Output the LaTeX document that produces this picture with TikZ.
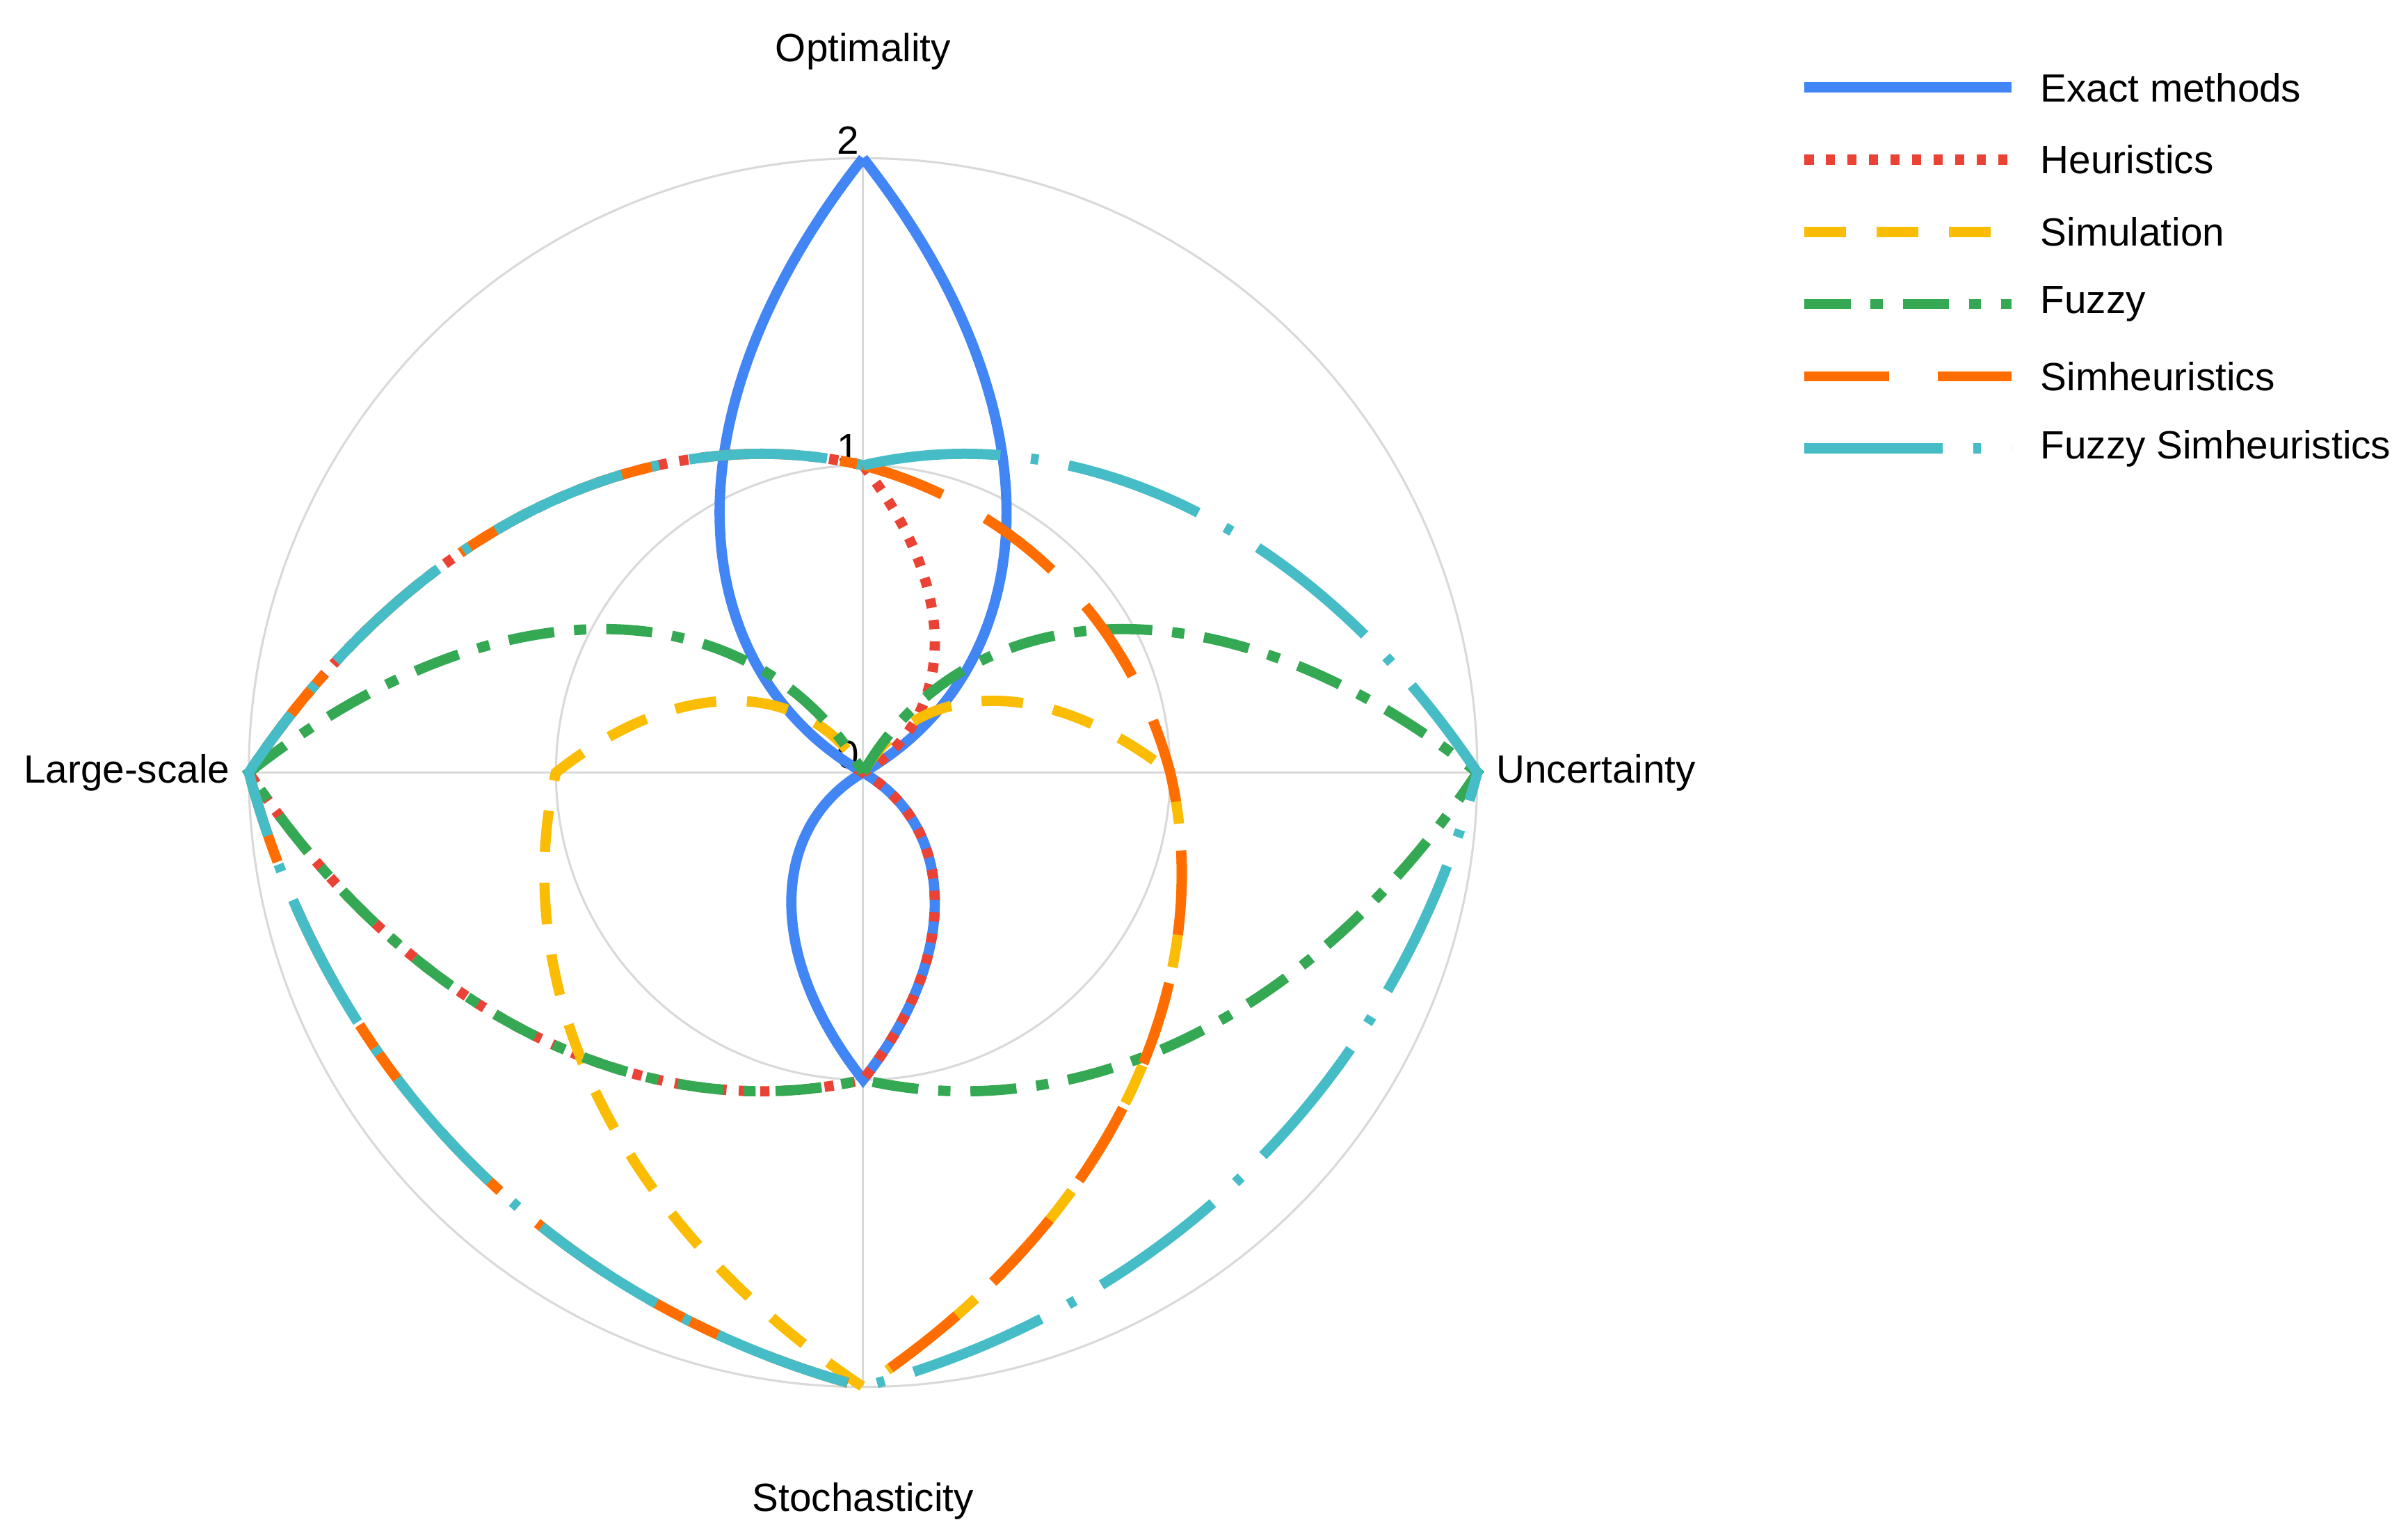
\documentclass[tikz,border=0pt]{standalone}
\usepackage{fontspec}
\setmainfont{Liberation Sans}
\usetikzlibrary{positioning}

\definecolor{cexact}{HTML}{4285F4}
\definecolor{cheur}{HTML}{EA4335}
\definecolor{csim}{HTML}{FBBC04}
\definecolor{cfuzzy}{HTML}{34A853}
\definecolor{csimh}{HTML}{FF6D01}
\definecolor{cfsimh}{HTML}{46BDC6}

% closed curve through the four axis values (top, right, bottom, left)
\newcommand{\radarcurve}[5]{%
  \draw[#1] (90:#2) .. controls (60:{(2*#2+#3)/3}) and (30:{(#2+2*#3)/3}) .. (0:#3)
    .. controls (-30:{(2*#3+#4)/3}) and (-60:{(#3+2*#4)/3}) .. (-90:#4)
    .. controls (-120:{(2*#4+#5)/3}) and (-150:{(#4+2*#5)/3}) .. (180:#5)
    .. controls (150:{(2*#5+#2)/3}) and (120:{(#5+2*#2)/3}) .. (90:#2);}

\begin{document}
\begin{tikzpicture}[font=\fontsize{7.3}{9}\selectfont,
	grid/.style={gray!30, line width=0.4pt},
	series/.style={line width=1.9pt},
	exact/.style={series, cexact},
	heur/.style={series, cheur, dash pattern=on 0.06cm off 0.08cm},
	simu/.style={series, csim, dash pattern=on 0.27cm off 0.2cm},
	fuzzy/.style={series, cfuzzy, dash pattern=on 0.3cm off 0.13cm on 0.08cm off 0.13cm},
	simh/.style={series, csimh, dash pattern=on 0.55cm off 0.32cm},
	fsimh/.style={series, cfsimh, dash pattern=on 0.9cm off 0.2cm on 0.05cm off 0.2cm}]
	\useasboundingbox (0,0) rectangle (15.68,10);
	\begin{scope}[shift={(5.62,4.97)}, x=2cm, y=2cm]
		\coordinate (O) at (0,0);
		\draw[grid] (O) circle (1);
		\draw[grid] (O) circle (2);
		\coordinate (top) at (0,2);
		\coordinate (right) at (2,0);
		\coordinate (bottom) at (0,-2);
		\coordinate (left) at (-2,0);
		\draw[grid] (top) -- (bottom);
		\draw[grid] (left) -- (right);
		\node[anchor=south east, inner sep=0.5pt] (v2) at (0,2) {2};
		\node[anchor=south east, inner sep=0.5pt] (v1) at (0,1) {1};
		\node[anchor=south east, inner sep=0.5pt] (v0) at (0,0) {0};
		\node[above=0.45cm of top] (opt) {Optimality};
		\node[right=0cm of right] (unc) {Uncertainty};
		\node[below=0.5cm of bottom] (sto) {Stochasticity};
		\node[left=0cm of left] (lsc) {Large-scale};
		\radarcurve{exact}{2}{0}{1}{0}
		\radarcurve{heur}{1}{0}{1}{2}
		\radarcurve{simu}{0}{1}{2}{1}
		\radarcurve{fuzzy}{0}{2}{1}{2}
		\radarcurve{simh}{1}{1}{2}{2}
		\radarcurve{fsimh}{1}{2}{2}{2}
	\end{scope}
	% legend
	\foreach \st/\txt [count=\i] in {exact/Exact methods, heur/Heuristics, simu/Simulation,
		fuzzy/Fuzzy, simh/Simheuristics, fsimh/Fuzzy Simheuristics} {
		\coordinate (la\i) at (11.75,{10-0.57-0.47*(\i-1)});
		\coordinate (lb\i) at (13.1,{10-0.57-0.47*(\i-1)});
		\draw[\st] (la\i) -- (lb\i);
		\node[anchor=west, inner sep=0pt] (lt\i) at (13.28,{10-0.57-0.47*(\i-1)}) {\txt};
	}
\end{tikzpicture}
\end{document}
